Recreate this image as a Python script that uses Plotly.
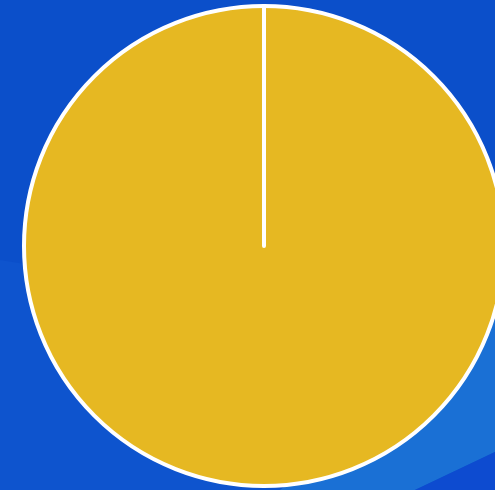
import plotly.graph_objects as go

# Pie data: one category holding the whole, plus an empty slice whose edge
# marks the starting angle.
labels = ["完成", "未完成"]
values = [100, 0]
slice_colors = ["#e6b822", "#e6b822"]

W, H = 510, 490
cx, cy, r = 264, 246, 240  # pixel centre / radius of the pie

fig = go.Figure(
    go.Pie(
        labels=labels,
        values=values,
        sort=False,
        direction="clockwise",
        rotation=0,
        textinfo="none",
        hoverinfo="label+percent",
        showlegend=False,
        marker=dict(colors=slice_colors, line=dict(color="#ffffff", width=4)),
        domain=dict(
            x=[(cx - r) / W, (cx + r) / W],
            y=[(H - cy - r) / H, (H - cy + r) / H],
        ),
    )
)

# Blue backdrop with soft diagonal bands
bands = [
    ("M0,260 L495,340 L495,490 L0,490 Z", "#0e54ce"),
    ("M280,490 L495,320 L495,452 L415,490 Z", "#1a70d5"),
    ("M415,490 L495,452 L495,490 Z", "#0d4bd0"),
]
shapes = []
for path, col in bands:
    # convert pixel path to paper coordinates
    pts = []
    for tok in path.replace("Z", "").split():
        cmd, xy = tok[0], tok[1:]
        x, y = map(float, xy.split(","))
        pts.append(f"{cmd}{x / W:.4f},{1 - y / H:.4f}")
    shapes.append(dict(type="path", xref="paper", yref="paper",
                       path=" ".join(pts) + " Z", fillcolor=col,
                       line=dict(width=0), layer="below"))

fig.update_layout(
    width=W,
    height=H,
    margin=dict(l=0, r=0, t=0, b=0),
    paper_bgcolor="#0b4fca",
    plot_bgcolor="#0b4fca",
    shapes=shapes,
)

fig.write_html(
    "out.html",
    post_script="document.body.style.margin='0';document.body.style.overflow='hidden';"
                "document.documentElement.style.overflow='hidden';",
)
